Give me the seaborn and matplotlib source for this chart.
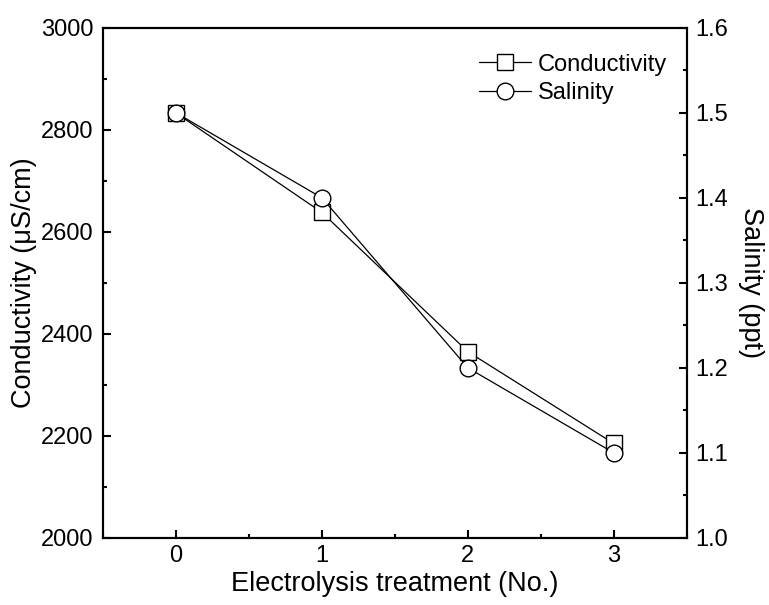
import matplotlib
matplotlib.use("Agg")
import matplotlib.pyplot as plt
import seaborn as sns
import pandas as pd
from matplotlib.ticker import MultipleLocator
from matplotlib.lines import Line2D

treatment = [0, 1, 2, 3]
conductivity = [2833, 2638, 2365, 2185]
salinity = [1.5, 1.4, 1.2, 1.1]

sns.set_style("ticks")
plt.rcParams['font.family'] = ['Liberation Sans', 'DejaVu Sans']
plt.rcParams['text.color'] = 'black'
plt.rcParams['axes.labelcolor'] = 'black'
plt.rcParams['xtick.color'] = 'black'
plt.rcParams['ytick.color'] = 'black'

df = pd.DataFrame({"treatment": treatment, "conductivity": conductivity, "salinity": salinity})

fig = plt.figure(figsize=(7.69, 6.05), dpi=100)
ax = fig.add_axes([0.134, 0.111, 0.759, 0.843])
ax2 = ax.twinx()

sns.lineplot(data=df, x="treatment", y="conductivity", ax=ax, color="black", lw=0.9,
             marker="s", markersize=11.5, markerfacecolor="white", markeredgecolor="black",
             markeredgewidth=1.0, zorder=3)
sns.lineplot(data=df, x="treatment", y="salinity", ax=ax2, color="black", lw=0.9,
             marker="o", markersize=12, markerfacecolor="white", markeredgecolor="black",
             markeredgewidth=1.0, zorder=3)

ax.set_xlim(-0.5, 3.5)
ax.set_ylim(2000, 3000)
ax2.set_ylim(1.0, 1.6)
ax.set_xticks([0, 1, 2, 3])
ax.xaxis.set_minor_locator(MultipleLocator(0.5))
ax.set_yticks([2000, 2200, 2400, 2600, 2800, 3000])
ax.yaxis.set_minor_locator(MultipleLocator(100))
ax2.set_yticks([1.0, 1.1, 1.2, 1.3, 1.4, 1.5, 1.6])
ax2.yaxis.set_minor_locator(MultipleLocator(0.05))

for a in (ax, ax2):
    for s in a.spines.values():
        s.set_linewidth(1.5)
        s.set_color("black")
ax.tick_params(axis="both", which="major", direction="in", length=5.5, width=1.5, labelsize=17, pad=7, colors="black")
ax.tick_params(axis="both", which="minor", direction="in", length=3, width=1.5)
ax.tick_params(axis="x", which="major", pad=5)
ax.tick_params(axis="y", which="both", left=True, right=False)
ax2.tick_params(axis="y", which="major", direction="in", length=5.5, width=1.5, labelsize=17, pad=6, colors="black")
ax2.tick_params(axis="y", which="minor", direction="in", length=3, width=1.5)

ax.set_xlabel("Electrolysis treatment (No.)", fontsize=19.5, labelpad=3, color="black")
ax.set_ylabel("Conductivity (\u03bcS/cm)", fontsize=19.5, labelpad=3, color="black")
ax2.set_ylabel("Salinity (ppt)", fontsize=19.5, rotation=270, labelpad=26, color="black")

handles = [
    Line2D([], [], color="black", lw=0.9, marker="s", markersize=11.5, markerfacecolor="white", markeredgecolor="black"),
    Line2D([], [], color="black", lw=0.9, marker="o", markersize=12, markerfacecolor="white", markeredgecolor="black"),
]
leg = ax2.legend(handles, ["Conductivity", "Salinity"], loc="upper right", frameon=False, fontsize=17,
                 handlelength=2.2, handletextpad=0.3, labelspacing=0.27, borderaxespad=0.3,
                 bbox_to_anchor=(0.995, 0.982))
for t in leg.get_texts():
    t.set_color("black")

fig.savefig("out.png", dpi=100)
